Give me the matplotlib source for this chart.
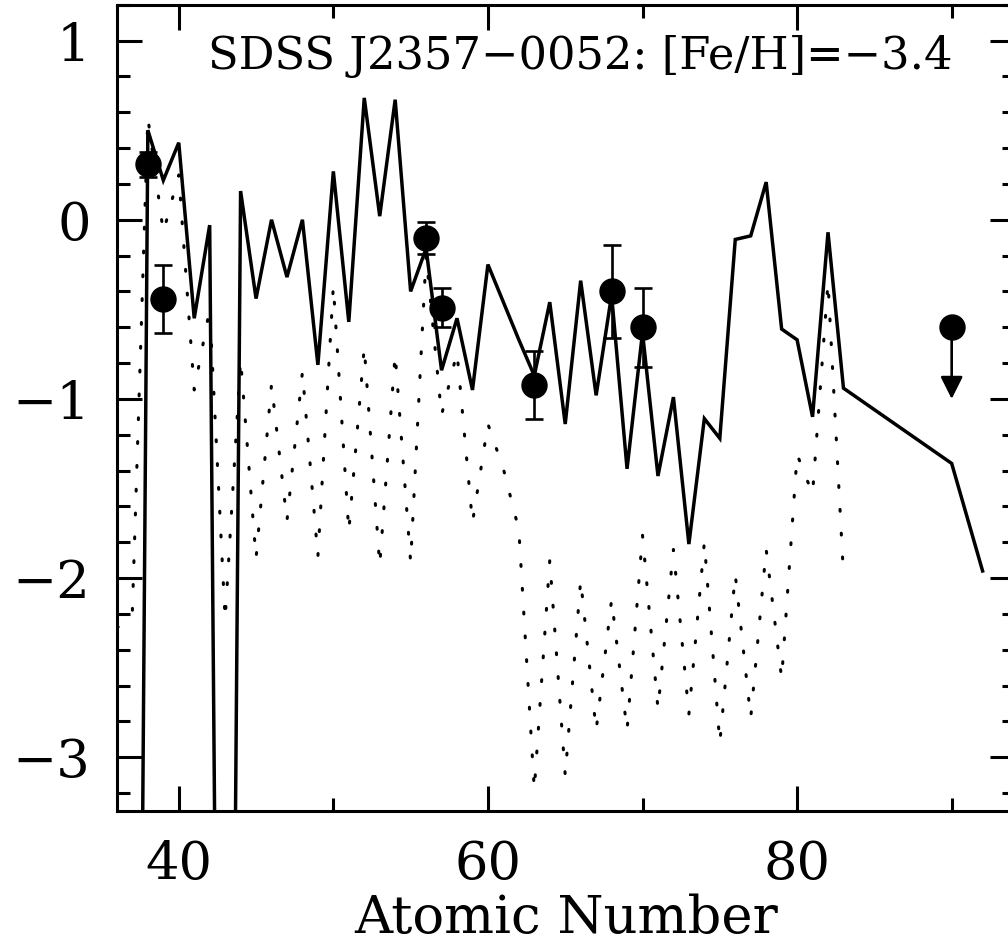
import matplotlib
matplotlib.use("Agg")
import matplotlib.pyplot as plt
from matplotlib.ticker import MultipleLocator

# solid model line (r-process pattern scaled)
solid_z = [37, 38, 39, 40, 41, 42, 43, 44, 45, 46, 47, 48, 49, 50, 51, 52, 53,
           54, 55, 56, 57, 58, 59, 60, 62, 63, 64, 65, 66, 67, 68, 69, 70, 71,
           72, 73, 74, 75, 76, 77, 78, 79, 80, 81, 82, 83, 90, 92]
solid_y = [-11.0, 0.50, 0.22, 0.43, -0.55, -0.03, -10.4, 0.16, -0.44, 0.00,
           -0.32, 0.00, -0.81, 0.27, -0.57, 0.68, 0.02, 0.67, -0.40, -0.16,
           -0.84, -0.55, -0.95, -0.25, -0.67, -0.87, -0.46, -1.14, -0.34,
           -0.98, -0.42, -1.39, -0.63, -1.43, -0.99, -1.81, -1.11, -1.22,
           -0.11, -0.09, 0.21, -0.61, -0.67, -1.10, -0.07, -0.94, -1.36, -1.96]

# dotted model line
dot_z = list(range(36, 84))
dot_y = [-2.28, -2.18, 0.57, -0.07, 0.25, -0.95, -0.50, -2.23, -0.78, -1.89,
         -0.92, -1.68, -0.85, -1.88, -0.37, -1.74, -0.71, -1.93, -0.75, -1.91,
         -0.20, -1.09, -0.74, -1.69, -1.14, -1.39, -1.73, -3.18, -1.90, -3.10,
         -2.01, -2.85, -2.12, -2.85, -1.76, -2.73, -1.84, -2.76, -1.80, -2.92,
         -1.98, -2.78, -1.84, -2.56, -1.31, -1.53, -0.35, -1.98]

# observed abundances
obs_z = [38, 39, 56, 57, 63, 68, 70]
obs_y = [0.31, -0.44, -0.10, -0.49, -0.92, -0.40, -0.60]
obs_err = [0.07, 0.19, 0.09, 0.11, 0.19, 0.26, 0.22]

# upper limit (Th)
lim_z = [90]
lim_y = [-0.60]

title = "SDSS J2357\u22120052: [Fe/H]=\u22123.4"

plt.rcParams['font.family'] = ['DejaVu Serif']
plt.rcParams['mathtext.fontset'] = 'dejavuserif'

fig = plt.figure(figsize=(10.08, 9.42), dpi=100)
ax = fig.add_axes([0.116, 0.139, 0.891, 0.856])

ax.plot(solid_z, solid_y, color='black', lw=2.5, solid_joinstyle='miter')
ax.plot(dot_z, dot_y, color='black', lw=2.2, dashes=(0.6, 7.2),
        dash_capstyle='round')

ax.errorbar(obs_z, obs_y, yerr=obs_err, fmt='o', color='black', ms=18,
            elinewidth=1.9, capsize=6.5, capthick=1.9)
ax.plot(lim_z, lim_y, 'o', color='black', ms=18)
for z, y in zip(lim_z, lim_y):
    ax.annotate('', xy=(z, y - 0.40), xytext=(z, y),
                arrowprops=dict(arrowstyle='-|>', color='black', lw=1.9,
                                mutation_scale=34, shrinkA=0, shrinkB=0))

ax.text(41.9, 0.91, title, fontsize=32.2, ha='left', va='center')

ax.set_xlim(36, 94.1)
ax.set_ylim(-3.3, 1.2)
ax.xaxis.set_major_locator(MultipleLocator(20))
ax.xaxis.set_minor_locator(MultipleLocator(10))
ax.yaxis.set_major_locator(MultipleLocator(1))
ax.yaxis.set_minor_locator(MultipleLocator(0.2))
ax.tick_params(which='both', direction='in', top=True, right=True, width=2.2)
ax.tick_params(which='major', length=18)
ax.tick_params(which='minor', length=9.5)
ax.tick_params(axis='y', labelsize=38, pad=19)
ax.tick_params(axis='x', labelsize=38, pad=20)
for sp in ax.spines.values():
    sp.set_linewidth(2.2)

ax.set_xlabel('Atomic Number', fontsize=38, labelpad=2)

fig.savefig('out.png', dpi=100)
